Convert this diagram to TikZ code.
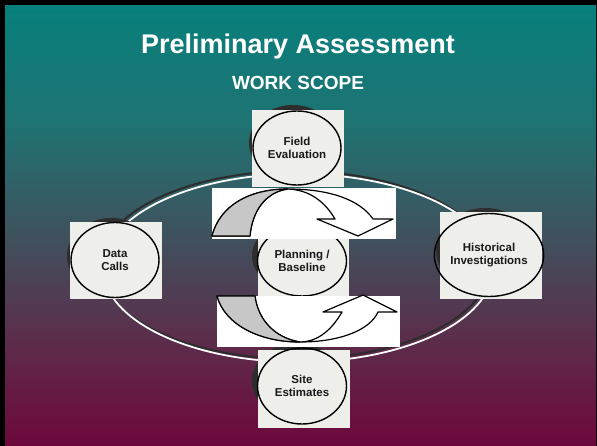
\documentclass[tikz,border=0pt]{standalone}
\usepackage{fontspec}
\setmainfont{Liberation Sans}
\usetikzlibrary{shapes.geometric}

\definecolor{bgtop}{RGB}{8,128,124}
\definecolor{bghigh}{RGB}{30,115,115}
\definecolor{bgmid}{RGB}{60,85,95}
\definecolor{bglow}{RGB}{92,45,75}
\definecolor{bgbot}{RGB}{110,8,60}
\definecolor{paper}{RGB}{238,238,235}
\definecolor{shadowgray}{RGB}{45,45,45}
\pgfdeclareverticalshading{slidebg}{100bp}{color(0bp)=(bgbot); color(25bp)=(bgbot); color(37bp)=(bglow); color(50bp)=(bgmid); color(62bp)=(bghigh); color(75bp)=(bgtop); color(100bp)=(bgtop)}

\begin{document}
\begin{tikzpicture}[
        x=1pt, y=-1pt,
        stage/.style={
            ellipse, draw = black, line width = 1.4pt, inner sep = 0pt,
            align = center, text = black!90, font = \bfseries\fontsize{11.5}{13.5}\selectfont
        },
        backdrop/.style={fill = shadowgray},
        card/.style={fill = paper},
        strip/.style={fill = white},
        arrowbody/.style={fill = white, draw = black, line width = 1.2pt, line join = round},
        arrowback/.style={fill = black!22, draw = black, line width = 1.2pt, line join = round},
    ]
    \useasboundingbox (0,0) rectangle (597,446);
    \fill[black] (0,0) rectangle (597,446);
    \shade[shading = slidebg] (5,6) rectangle (596,445);

    % titles
    \node (title) [text = white, font = \bfseries\fontsize{27}{30}\selectfont] at (298,47) {Preliminary Assessment};
    \node (scope) [text = white, font = \bfseries\fontsize{19}{22}\selectfont] at (298,83) {WORK SCOPE};

    % ring
    \draw[shadowgray, line width = 2pt] (295,265) ellipse (195pt and 94pt);
    \draw[white, line width = 1.8pt] (298,268) ellipse (195pt and 94pt);

    % field evaluation
    \fill[backdrop] (293,143) ellipse (44pt and 38pt);
    \fill[card] (252,110) rectangle (344,187);
    \node (fieldEval) [stage, minimum width = 88pt, minimum height = 74pt] at (297,148) {Field\\Evaluation};

    % planning / baseline
    \fill[backdrop] (297,256) ellipse (45pt and 35pt);
    \fill[card] (258,226) rectangle (349,296);
    \node (planning) [stage, minimum width = 89pt, minimum height = 70pt] at (302,261) {Planning /\\Baseline};

    % site estimates
    \fill[backdrop] (297,381) ellipse (45pt and 38pt);
    \fill[card] (258,350) rectangle (350,428);
    \node (siteEst) [stage, minimum width = 89pt, minimum height = 76pt] at (302,386) {Site\\Estimates};

    % data calls
    \fill[backdrop] (111,256) ellipse (44pt and 38pt);
    \fill[card] (70,222) rectangle (162,299);
    \node (dataCalls) [stage, minimum width = 88pt, minimum height = 75pt] at (115,260) {Data\\Calls};

    % historical investigations
    \fill[backdrop] (485,250) ellipse (49pt and 42pt);
    \fill[card] (440,212) rectangle (542,299);
    \node (histInv) [stage, minimum width = 97pt, minimum height = 83pt] at (489,255) {Historical\\Investigations};

    % upper turn
    \fill[strip] (212,188) rectangle (396,239);
    \filldraw[arrowbody] (212,236) .. controls (220,205) and (250,189) .. (288,189)
        .. controls (330,189) and (360,200) .. (373,219) -- (393,219) -- (358,236) -- (317,219) -- (335,219)
        .. controls (325,202) and (310,190) .. (288,189)
        .. controls (265,192) and (252,212) .. (250,236) -- cycle;
    \filldraw[arrowback] (212,236) .. controls (220,205) and (250,189) .. (288,189)
        .. controls (265,192) and (252,212) .. (250,236) -- cycle;

    % lower turn
    \fill[strip] (217,296) rectangle (400,347);
    \filldraw[arrowbody] (217,296) .. controls (225,325) and (260,342) .. (300,342)
        .. controls (340,342) and (370,330) .. (378,312) -- (397,312) -- (363,295) -- (323,312) -- (342,312)
        .. controls (330,333) and (315,342) .. (300,342)
        .. controls (275,338) and (258,320) .. (255,296) -- cycle;
    \filldraw[arrowback] (217,296) .. controls (225,325) and (260,342) .. (300,342)
        .. controls (275,338) and (258,320) .. (255,296) -- cycle;

\end{tikzpicture}
\end{document}
